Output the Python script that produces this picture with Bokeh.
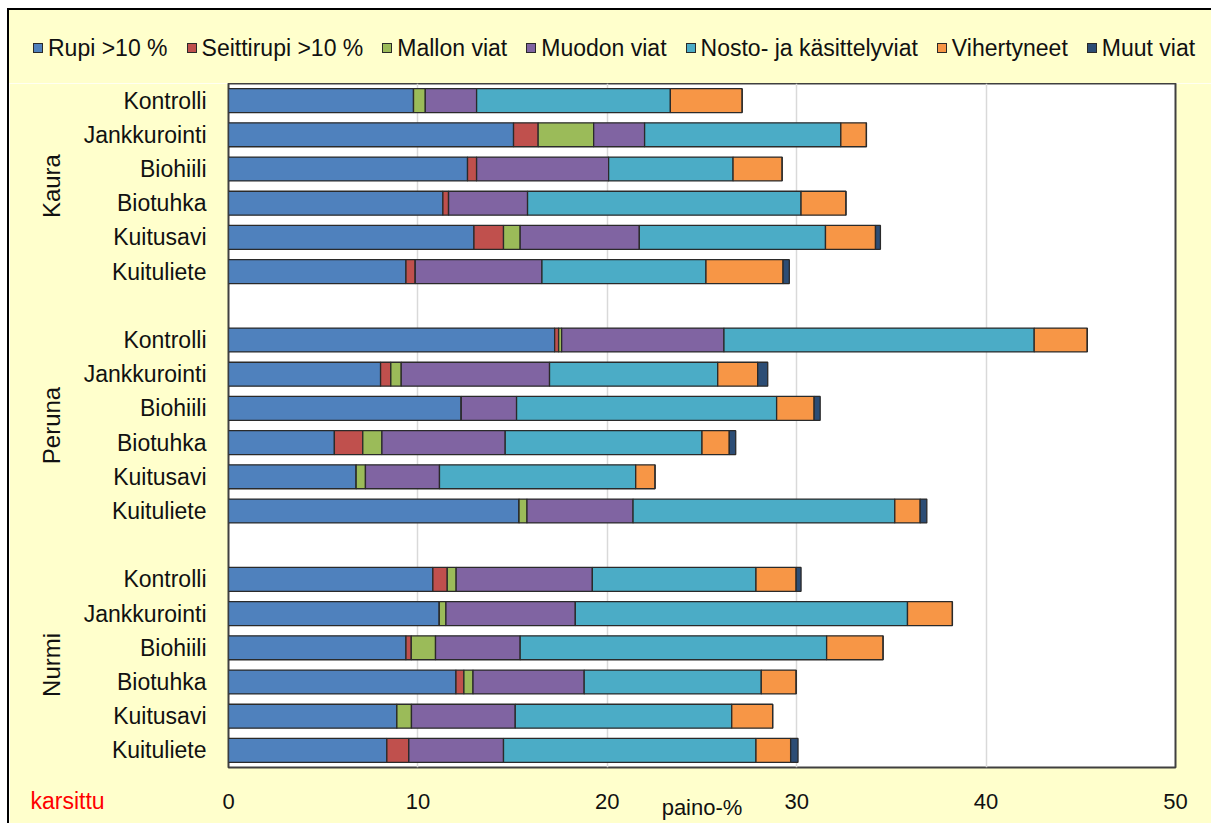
from bokeh.plotting import figure
from bokeh.layouts import column
from bokeh.models import (FactorRange, Range1d, Title, Div,
                          ColumnDataSource, FixedTicker)
from bokeh.embed import file_html
from bokeh.resources import INLINE

# ---------------- data ----------------
crops = ["Kaura", "Peruna", "Nurmi"]
treatments = ["Kontrolli", "Jankkurointi", "Biohiili", "Biotuhka", "Kuitusavi", "Kuituliete"]

series_names = ["Rupi >10 %", "Seittirupi >10 %", "Mallon viat", "Muodon viat",
                "Nosto- ja käsittelyviat", "Vihertyneet", "Muut viat"]
series_colors = ["#4F81BD", "#C0504D", "#9BBB59", "#8064A2", "#4BACC6", "#F79646", "#2C4D75"]

# values in order: Kaura (6 treatments), Peruna (6), Nurmi (6)
rupi = [9.77, 15.05, 12.62, 11.32, 12.96, 9.37,
        17.22, 8.03, 12.29, 5.59, 6.74, 15.34,
        10.79, 11.13, 9.37, 12.01, 8.89, 8.36]
seittirupi = [0.0, 1.30, 0.48, 0.30, 1.56, 0.49,
              0.21, 0.54, 0.0, 1.50, 0.0, 0.0,
              0.76, 0.0, 0.28, 0.42, 0.0, 1.16]
mallon = [0.62, 2.93, 0.0, 0.0, 0.88, 0.0,
          0.16, 0.55, 0.0, 1.01, 0.49, 0.42,
          0.47, 0.35, 1.28, 0.48, 0.77, 0.0]
muodon = [2.71, 2.69, 6.97, 4.17, 6.29, 6.69,
          8.57, 7.83, 2.92, 6.51, 3.91, 5.60,
          7.19, 6.83, 4.47, 5.87, 5.48, 5.00]
nosto = [10.23, 10.36, 6.57, 14.44, 9.83, 8.66,
         16.38, 8.88, 13.73, 10.39, 10.36, 13.82,
         8.64, 17.54, 16.18, 9.35, 11.43, 13.33]
vihertyneet = [3.79, 1.35, 2.59, 2.37, 2.64, 4.07,
               2.80, 2.11, 1.98, 1.44, 1.02, 1.34,
               2.12, 2.37, 2.98, 1.84, 2.16, 1.83]
muut = [0.0, 0.0, 0.0, 0.0, 0.26, 0.33,
        0.0, 0.53, 0.32, 0.34, 0.0, 0.35,
        0.26, 0.0, 0.0, 0.0, 0.0, 0.39]

x_ticks = [0, 10, 20, 30, 40, 50]

# ---------------- build ----------------
factors = [(c, t) for c in crops for t in treatments]
keys = ["s0", "s1", "s2", "s3", "s4", "s5", "s6"]
source = ColumnDataSource(dict(y=factors, s0=rupi, s1=seittirupi, s2=mallon, s3=muodon,
                               s4=nosto, s5=vihertyneet, s6=muut))

# first factor is drawn at the bottom -> reverse the order
y_range = FactorRange(*[(c, t) for c in reversed(crops) for t in reversed(treatments)],
                      group_padding=1.0, range_padding=0)

FONT = "Liberation Sans"
YELLOW = "#FFFFCC"
TXT = "#111111"
EDGE = "#2a2a2a"

# ---------- legend strip (top of the chart box) ----------
entries = "".join(
    '<span style="display:inline-flex;align-items:center;margin-right:19px">'
    f'<span style="display:inline-block;width:10px;height:10px;background:{c};'
    f'border:1px solid {EDGE};margin-right:5px"></span>{n}</span>'
    for n, c in zip(series_names, series_colors))
legend_div = Div(
    text=('<div style="width:1202px;height:73px;box-sizing:border-box;padding:3px 0 0 24px;'
          f'background:{YELLOW};display:flex;align-items:center;white-space:nowrap;'
          f"font-family:'{FONT}';font-size:23px;color:{TXT}\">{entries}</div>"),
    width=1202, height=73, margin=0,
    styles={"background-color": YELLOW, "overflow": "hidden"})

# ---------- main chart ----------
p = figure(frame_width=947, frame_height=684, y_range=y_range, x_range=Range1d(0, 50),
           output_backend="svg", toolbar_location=None,
           background_fill_color="white", border_fill_color=YELLOW,
           min_border_left=219, min_border_right=36, min_border_top=0, min_border_bottom=56)

p.hbar_stack(keys, y="y", height=0.7, source=source,
             fill_color=series_colors, line_color=EDGE, line_width=1.3)

p.outline_line_color = "#404040"
p.outline_line_width = 2

p.ygrid.grid_line_color = None
p.xgrid.grid_line_color = "#d9d9d9"
p.xgrid.grid_line_width = 1.5
p.xgrid.ticker = FixedTicker(ticks=x_ticks)

xa = p.xaxis[0]
xa.ticker = FixedTicker(ticks=x_ticks)
xa.axis_line_color = None
xa.major_tick_line_color = None
xa.minor_tick_line_color = None
xa.major_label_standoff = 20
xa.major_label_text_font = FONT
xa.major_label_text_font_size = "22px"
xa.major_label_text_color = TXT
xa.axis_label = "paino-%"
xa.axis_label_text_font = FONT
xa.axis_label_text_font_style = "normal"
xa.axis_label_text_font_size = "22px"
xa.axis_label_text_color = TXT
xa.axis_label_standoff = -17

ya = p.yaxis[0]
ya.axis_line_color = None
ya.major_tick_line_color = None
ya.minor_tick_line_color = None
ya.major_label_standoff = 16
ya.major_label_text_font = FONT
ya.major_label_text_font_size = "23px"
ya.major_label_text_color = TXT
ya.group_text_font = FONT
ya.group_text_font_size = "24px"
ya.group_text_font_style = "normal"
ya.group_text_color = TXT
ya.separator_line_color = None

note = Title(text="karsittu", align="left", offset=-198, standoff=-70, vertical_align="top",
             text_color="red", text_font=FONT, text_font_size="23px", text_font_style="normal")
p.add_layout(note, "below")

layout = column(legend_div, p, spacing=0)
layout.styles = {"margin-left": "7px", "margin-top": "8px",
                 "border-left": "2px solid black", "border-top": "2px solid black"}

open("out.html", "w").write(file_html(layout, INLINE))
